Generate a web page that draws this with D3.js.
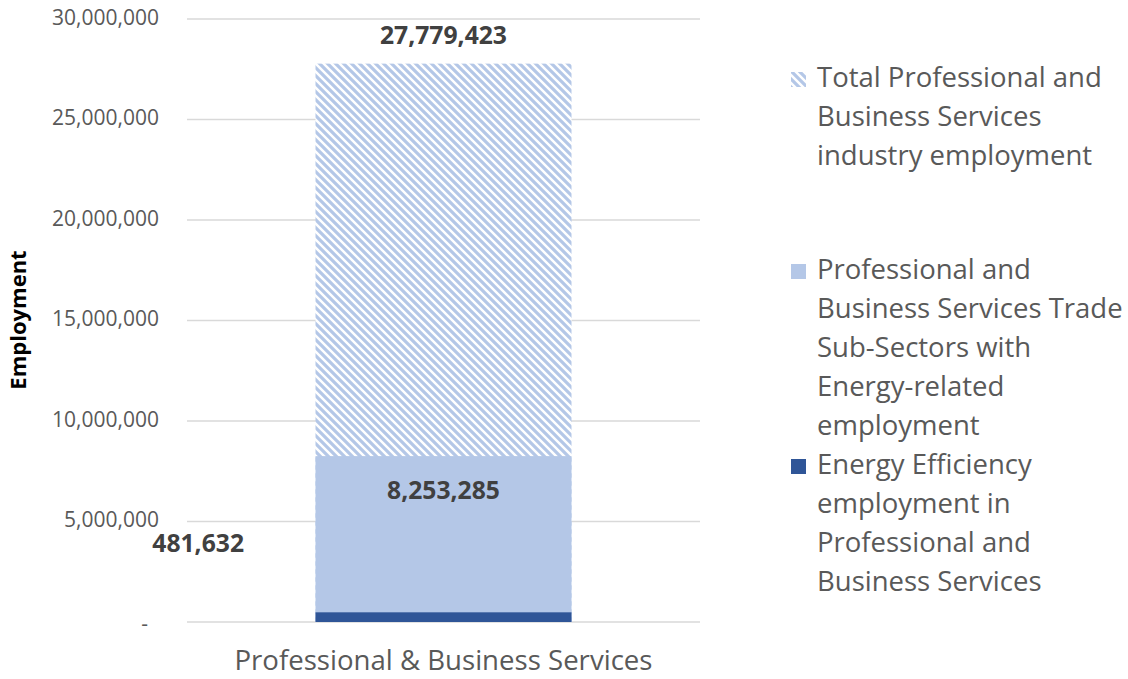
<!DOCTYPE html>
<html>
<head>
<meta charset="utf-8">
<script src="https://cdn.jsdelivr.net/npm/d3@7"></script>
<style>
  html, body { margin: 0; padding: 0; background: #fff; }
  svg { display: block; }
</style>
</head>
<body>
<svg id="chart" width="1128" height="679"></svg>
<script>
// Employment figures for the Professional & Business Services sector
const categories = ["Professional & Business Services"];
const seriesNames = [
  "Total Professional and Business Services industry employment",
  "Professional and Business Services Trade Sub-Sectors with Energy-related employment",
  "Energy Efficiency employment in Professional and Business Services"
];
const totalEmployment = [27779423];
const energyRelatedEmployment = [8253285];
const efficiencyEmployment = [481632];
const yTicks = [0, 5000000, 10000000, 15000000, 20000000, 25000000, 30000000];

const legendLines = [
  ["Total Professional and", "Business Services", "industry employment"],
  ["Professional and", "Business Services Trade", "Sub-Sectors with", "Energy-related", "employment"],
  ["Energy Efficiency", "employment in", "Professional and", "Business Services"]
];

const svg = d3.select("#chart");
const font = "'Open Sans', sans-serif";
const plot = { left: 187, right: 700, top: 19, bottom: 622 };

const x = d3.scaleBand().domain(categories).range([plot.left, plot.right]).paddingInner(0.5).paddingOuter(0.25);
const y = d3.scaleLinear().domain([0, 30000000]).range([plot.bottom, plot.top]);

// diagonal hatch for the total bar
const defs = svg.append("defs");
const pat = defs.append("pattern")
  .attr("id", "hatch").attr("patternUnits", "userSpaceOnUse")
  .attr("width", 8).attr("height", 8);
pat.append("rect").attr("width", 8).attr("height", 8).attr("fill", "#fff");
pat.append("path")
  .attr("d", "M-2,6 L2,10 M0,0 L8,8 M6,-2 L10,2")
  .attr("stroke", "#b4c7e7").attr("stroke-width", 3.2);

// gridlines
svg.append("g").selectAll("line").data(yTicks).join("line")
  .attr("x1", plot.left).attr("x2", plot.right)
  .attr("y1", d => y(d)).attr("y2", d => y(d))
  .attr("stroke", "#d9d9d9").attr("stroke-width", 1.3);

// y tick labels
const fmt = d3.format(",");
svg.append("g").selectAll("text").data(yTicks).join("text")
  .attr("x", d => d === 0 ? 148 : 159)
  .attr("y", d => y(d) + (d === 0 ? 3 : 0))
  .attr("text-anchor", "end").attr("dominant-baseline", "middle")
  .attr("font-family", font).attr("font-size", 21).attr("fill", "#595959")
  .text(d => d === 0 ? "-" : fmt(d));

// bars, each drawn from zero and overlapping
const bw = 256;
const cx = d => x(d) + x.bandwidth() / 2;
const barLayers = [
  { values: totalEmployment, fill: "url(#hatch)" },
  { values: energyRelatedEmployment, fill: "#b4c7e7" },
  { values: efficiencyEmployment, fill: "#2f5597" }
];
barLayers.forEach(layer => {
  svg.append("g").selectAll("rect").data(categories).join("rect")
    .attr("x", d => cx(d) - bw / 2)
    .attr("width", bw)
    .attr("y", (d, i) => y(layer.values[i]))
    .attr("height", (d, i) => y(0) - y(layer.values[i]))
    .attr("fill", layer.fill);
});

// value labels
const labelStyle = sel => sel.attr("font-family", font).attr("font-size", 24.7)
  .attr("font-weight", "bold").attr("fill", "#404040").attr("dominant-baseline", "middle");
svg.append("text").call(labelStyle).attr("text-anchor", "middle")
  .attr("x", cx(categories[0])).attr("y", y(totalEmployment[0]) - 26)
  .text(fmt(totalEmployment[0]));
svg.append("text").call(labelStyle).attr("text-anchor", "middle")
  .attr("x", cx(categories[0])).attr("y", y(energyRelatedEmployment[0]) + 36)
  .text(fmt(energyRelatedEmployment[0]));
svg.append("text").call(labelStyle).attr("text-anchor", "end")
  .attr("x", 244).attr("y", y(efficiencyEmployment[0]) - 67)
  .text(fmt(efficiencyEmployment[0]));

// category label
svg.append("text")
  .attr("x", cx(categories[0])).attr("y", 663)
  .attr("text-anchor", "middle").attr("dominant-baseline", "middle")
  .attr("font-family", font).attr("font-size", 27.6).attr("fill", "#595959")
  .text(categories[0]);

// y axis title
svg.append("text")
  .attr("transform", "translate(20,320) rotate(-90)")
  .attr("text-anchor", "middle").attr("dominant-baseline", "middle")
  .attr("font-family", font).attr("font-size", 22).attr("font-weight", "bold").attr("fill", "#000")
  .text("Employment");

// legend
const legendFills = ["url(#hatch)", "#b4c7e7", "#2f5597"];
const legendTop = [80, 272, 467];
const lineH = 39;
seriesNames.forEach((name, i) => {
  const g = svg.append("g").attr("class", "legend-item");
  g.append("rect").attr("x", 791).attr("y", legendTop[i] - 8).attr("width", 15).attr("height", 15)
    .attr("fill", legendFills[i]);
  g.append("text")
    .attr("font-family", font).attr("font-size", 27.5).attr("fill", "#595959")
    .selectAll("tspan").data(legendLines[i]).join("tspan")
    .attr("x", 817).attr("y", (d, j) => legendTop[i] + j * lineH)
    .attr("dominant-baseline", "middle")
    .text(d => d);
});
</script>
</body>
</html>
